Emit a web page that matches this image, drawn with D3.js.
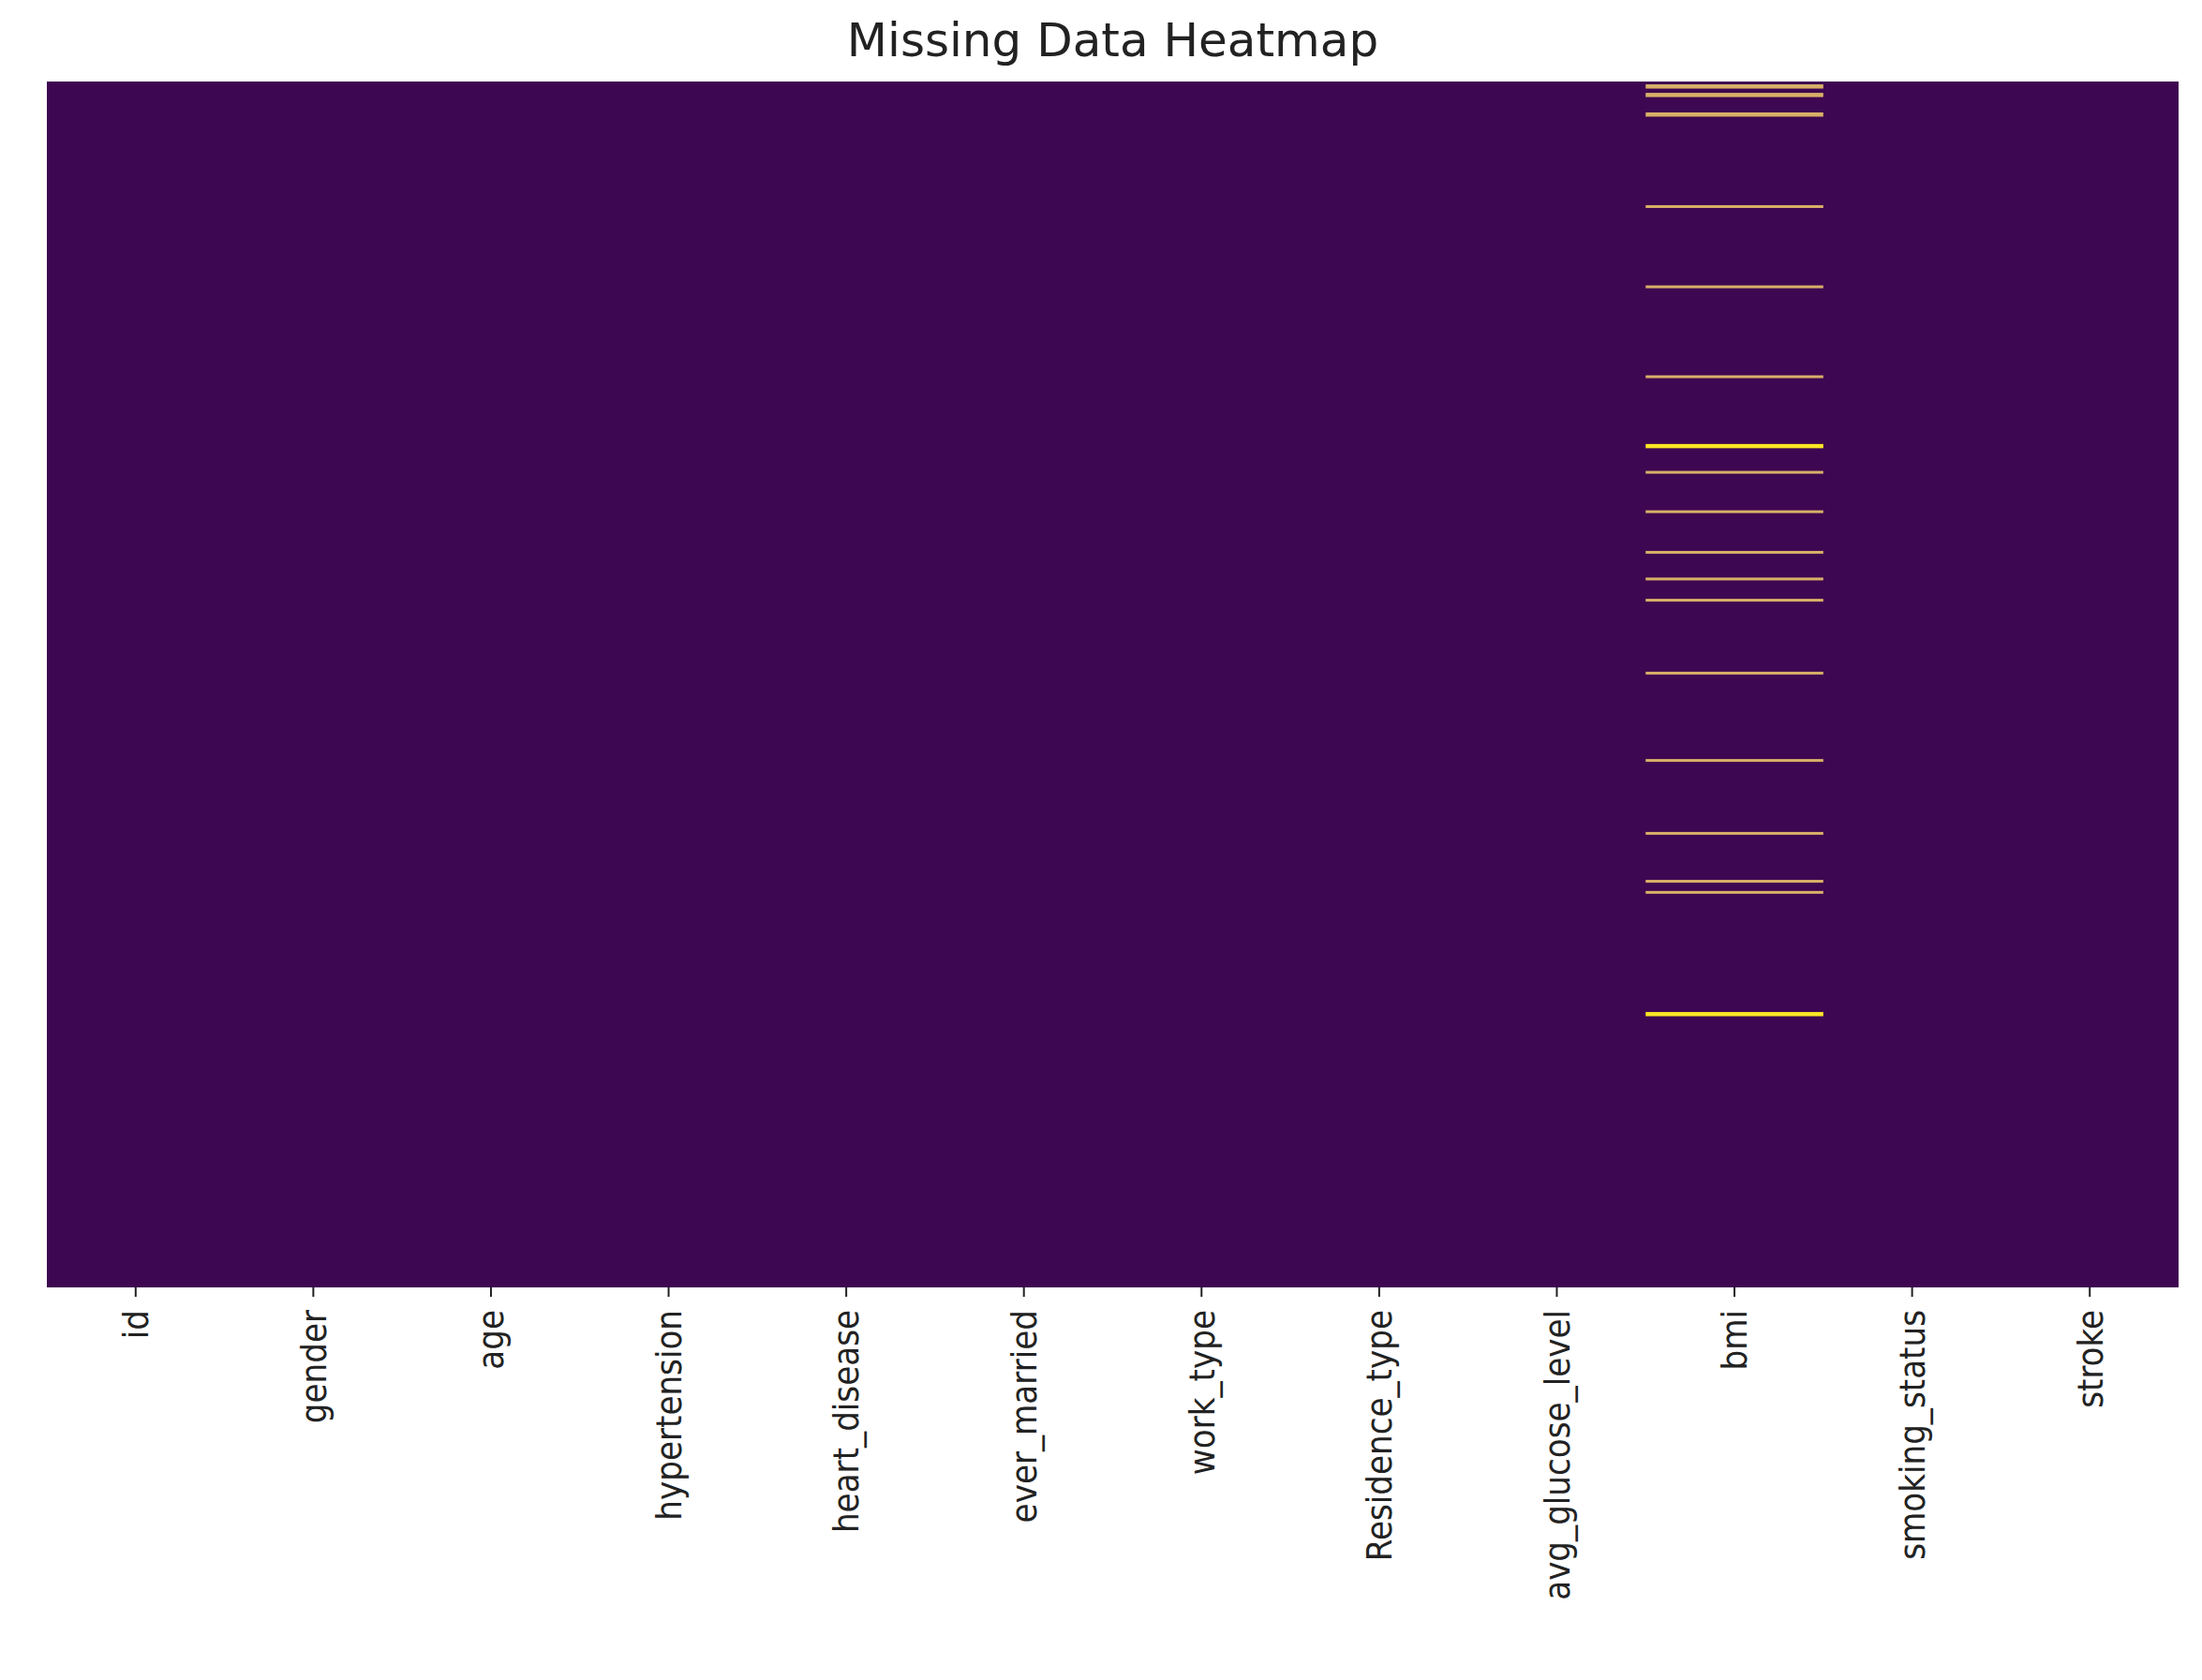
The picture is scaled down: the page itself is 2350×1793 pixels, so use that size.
<!DOCTYPE html>
<html lang="en">
<head>
<meta charset="UTF-8">
<title>Missing Data Heatmap</title>
<script src="https://d3js.org/d3.v7.min.js"></script>
<style>
  body { margin: 0; padding: 0; background: #fff; }
  .tick text { font-family: "DejaVu Sans Condensed", "DejaVu Sans", sans-serif; }
</style>
</head>
<body>
<svg width="2350" height="1793"></svg>
<script>
const columns = ["id", "gender", "age", "hypertension", "heart_disease", "ever_married",
  "work_type", "Residence_type", "avg_glucose_level", "bmi", "smoking_status", "stroke"];
const nRows = 5110;
// missing bmi rows: [first row, run length]
const missingStart = [12, 48, 131, 524, 864, 1245, 1536, 1650, 1817, 1989, 2102, 2192, 2501, 2871, 3180, 3383, 3430, 3943];
const missingLen   = [2, 2, 2, 1, 1, 1, 3, 1, 1, 1, 1, 1, 1, 1, 1, 1, 1, 3];
const missingCol = "bmi";

const svg = d3.select("svg");
const mLeft = 50, mRight = 2325, mTop = 87, mBottom = 1374;

const x = d3.scaleBand().domain(columns).range([mLeft, mRight]);
const y = d3.scaleLinear().domain([0, nRows]).range([mTop, mBottom]);

svg.append("rect")
  .attr("x", mLeft).attr("y", mTop)
  .attr("width", mRight - mLeft).attr("height", mBottom - mTop)
  .attr("fill", "#3e0751");

const runs = missingStart.map((s, i) => ({ start: s, len: missingLen[i] }));
svg.append("g").selectAll("rect")
  .data(runs)
  .enter()
  .append("rect")
  .attr("x", x(missingCol))
  .attr("width", x.bandwidth())
  .attr("y", d => y(d.start))
  .attr("height", d => Math.max(y(d.start + d.len) - y(d.start), d.len > 1 ? 4.5 : 3))
  .attr("fill", d => d.len > 2 ? "#fde725" : "#e9c36a")
  .attr("opacity", d => d.len > 2 ? 1 : 0.9);

const xAxis = svg.append("g")
  .attr("transform", `translate(0,${mBottom})`)
  .call(d3.axisBottom(x).tickSize(10).tickPadding(14));
xAxis.select(".domain").remove();
xAxis.selectAll(".tick line").attr("stroke", "#222").attr("stroke-width", 2);
xAxis.selectAll(".tick text")
  .attr("font-size", 38)
  .attr("fill", "#222")
  .attr("transform", "rotate(-90)")
  .attr("text-anchor", "end")
  .attr("x", -24)
  .attr("y", 0)
  .attr("dy", "0.35em");

svg.append("text")
  .attr("x", (mLeft + mRight) / 2)
  .attr("y", 60)
  .attr("text-anchor", "middle")
  .attr("font-family", "DejaVu Sans, sans-serif")
  .attr("font-size", 50)
  .attr("fill", "#222")
  .text("Missing Data Heatmap");
</script>
</body>
</html>
